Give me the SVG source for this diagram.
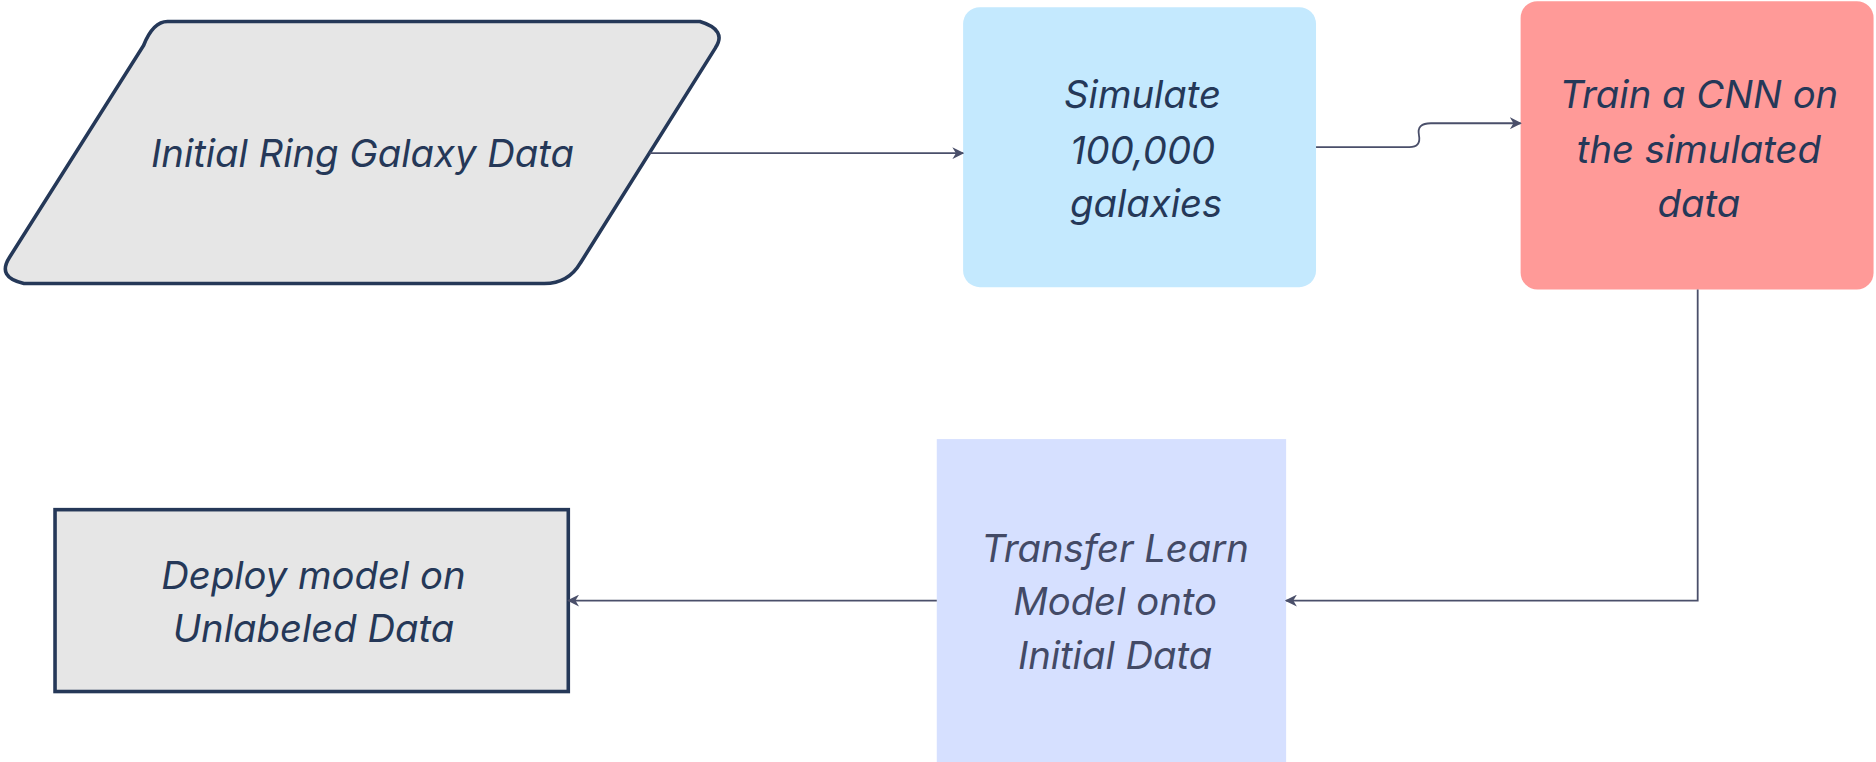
<svg xmlns="http://www.w3.org/2000/svg" width="1876" height="762" viewBox="0 0 1876 762">
<style>
.t{font-family:Inter,"Noto Sans",sans-serif;font-style:italic;font-size:32px;fill:#253858;text-anchor:middle}
.c{fill:none;stroke:#4a4f6a;stroke-width:1.5}
</style>
<defs><marker id="a" viewBox="0 0 10 10" refX="9" refY="5" markerWidth="10" markerHeight="10" markerUnits="userSpaceOnUse" orient="auto"><path d="M0,0 L10,5 L0,10 L3,5 Z" fill="#4a4f6a"/></marker></defs>
<rect width="1876" height="762" fill="#fff"/>
<g transform="scale(1.1964)">
<g id="n1"><path d="M140,18 L585,18 Q608,25 598,40 L485,220 Q475,237 455,237 L20,237 Q-3,232 8,215 L120,38 Q128,18 140,18 Z" fill="#e6e6e6" stroke="#253858" stroke-width="3"/><text class="t" x="303" y="140">Initial Ring Galaxy Data</text></g>
<g id="n2"><rect x="805" y="6" width="295" height="234" rx="14" fill="#c4e9fe"/><text class="t" x="955" y="90">Simulate</text><text class="t" x="955" y="137">100,000</text><text class="t" x="958" y="181">galaxies</text></g>
<g id="n3"><rect x="1271" y="1" width="295" height="241" rx="14" fill="#ff9a98"/><text class="t" x="1420" y="90">Train a CNN on</text><text class="t" x="1420" y="136">the simulated</text><text class="t" x="1420" y="181">data</text></g>
<g id="n4"><rect x="783" y="367" width="292" height="270" fill="#d6e0ff"/><text class="t" x="932" y="470" style="fill:#434a66">Transfer Learn</text><text class="t" x="932" y="514" style="fill:#434a66">Model onto</text><text class="t" x="932" y="559" style="fill:#434a66">Initial Data</text></g>
<g id="n5"><rect x="46" y="426" width="429" height="152" fill="#e6e6e6" stroke="#253858" stroke-width="3"/><text class="t" x="262" y="492">Deploy model on</text><text class="t" x="262" y="537">Unlabeled Data</text></g>
<g id="edges">
<path class="c" d="M543,128 L805,128" marker-end="url(#a)"/>
<path class="c" d="M1100,123 L1178,123 Q1188,123 1186,113 Q1184,103 1196,103 L1271,103" marker-end="url(#a)"/>
<path class="c" d="M1419,242 L1419,502 L1075,502" marker-end="url(#a)"/>
<path class="c" d="M783,502 L475,502" marker-end="url(#a)"/>
</g>
</g>
</svg>
